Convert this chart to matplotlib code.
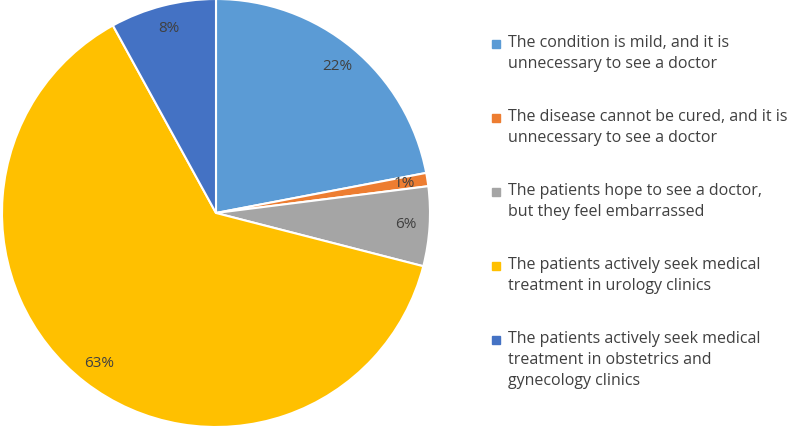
import matplotlib

matplotlib.use("Agg")
import matplotlib.pyplot as plt
from matplotlib.patches import Rectangle

# data
labels = [
    "The condition is mild, and it is\nunnecessary to see a doctor",
    "The disease cannot be cured, and it is\nunnecessary to see a doctor",
    "The patients hope to see a doctor,\nbut they feel embarrassed",
    "The patients actively seek medical\ntreatment in urology clinics",
    "The patients actively seek medical\ntreatment in obstetrics and\ngynecology clinics",
]
values = [22, 1, 6, 63, 8]
colors = ["#5B9BD5", "#ED7D31", "#A5A5A5", "#FFC000", "#4472C4"]

W, H = 797, 433
plt.rcParams["font.family"] = ["Open Sans", "DejaVu Sans"]
text_color = "#404040"

fig = plt.figure(figsize=(W / 100, H / 100), dpi=100)

cx, cy, r = 216, 220, 214
ax = fig.add_axes([(cx - r) / W, (cy - r) / H, 2 * r / W, 2 * r / H])
ax.pie(
    values,
    colors=colors,
    startangle=90,
    counterclock=False,
    radius=1,
    autopct=lambda p: f"{p:.0f}%",
    pctdistance=0.89,
    wedgeprops=dict(edgecolor="white", linewidth=1.5),
    textprops=dict(color=text_color, fontsize=11),
)
ax.set_xlim(-1, 1)
ax.set_ylim(-1, 1)
ax.set_aspect("equal")
ax.axis("off")

# legend drawn by hand so the square sits on the first line
y_top = 45
for lab, col in zip(labels, colors):
    fig.patches.append(
        Rectangle((492 / W, 1 - (y_top + 3) / H), 8 / W, 8 / H,
                  transform=fig.transFigure, color=col)
    )
    fig.text(508 / W, 1 - (y_top - 10) / H, lab, fontsize=11.5,
             color=text_color, va="top", ha="left", linespacing=1.4)
    y_top += 74

fig.savefig("out.png", dpi=100)
